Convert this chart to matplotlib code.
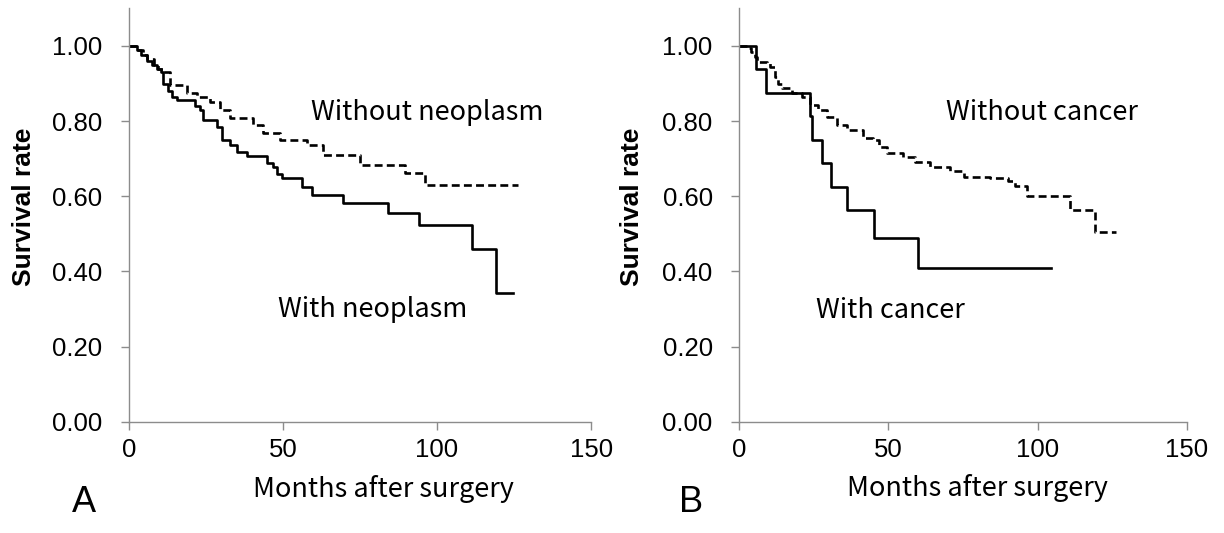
import numpy as np
import matplotlib
matplotlib.use("Agg")
import matplotlib.pyplot as plt

# Kaplan-Meier style step data (month at which the value starts, survival rate)
a_without_t = [0, 2.5, 4.5, 6, 8, 9.5, 11.1, 13.3, 18.7, 22, 26.3, 29.5, 32.8,
               40.4, 43.6, 49, 57.7, 63.1, 75, 89.6, 96.1, 126.3]
a_without_s = [1.0, 0.99, 0.975, 0.965, 0.95, 0.94, 0.932, 0.896, 0.874, 0.865,
               0.852, 0.83, 0.808, 0.79, 0.768, 0.75, 0.736, 0.71, 0.683, 0.661,
               0.63, 0.63]

a_with_t = [0, 2.5, 4, 6, 7.5, 9, 10.5, 11.1, 12.5, 14, 15.5, 21.4, 23, 24.1,
            28.5, 30.1, 32.8, 34.9, 38.2, 44.7, 46.9, 48, 49.6, 56.1, 59.3,
            69.6, 84.2, 94.3, 111.3, 119.1, 124.6]
a_with_s = [1.0, 0.99, 0.975, 0.96, 0.95, 0.94, 0.93, 0.90, 0.88, 0.865, 0.855,
            0.84, 0.829, 0.803, 0.785, 0.75, 0.736, 0.719, 0.707, 0.688, 0.679,
            0.66, 0.648, 0.626, 0.603, 0.581, 0.556, 0.524, 0.459, 0.342, 0.342]

b_without_t = [0, 2.6, 4, 5.4, 5.9, 9.3, 10.4, 12.1, 13.2, 14.3, 17.7, 21, 23.8,
               26.6, 29.4, 32.7, 36.1, 41.6, 45, 47, 49.5, 55, 59, 64, 70.7,
               75.2, 84.2, 90, 92.6, 96.4, 111, 119.4, 126.4]
b_without_s = [1.0, 0.994, 0.985, 0.972, 0.958, 0.954, 0.945, 0.918, 0.9, 0.887,
               0.874, 0.865, 0.843, 0.83, 0.812, 0.79, 0.777, 0.754, 0.75, 0.73,
               0.714, 0.705, 0.692, 0.679, 0.668, 0.652, 0.648, 0.64, 0.628,
               0.601, 0.564, 0.506, 0.506]

b_with_t = [0, 5.7, 8.9, 23.7, 24.4, 27.8, 30.9, 36, 45.3, 59.8, 104.4]
b_with_s = [1.0, 0.9375, 0.875, 0.8125, 0.75, 0.6875, 0.625, 0.5625, 0.49,
            0.408, 0.408]

x_ticks = [0, 50, 100, 150]
y_ticks = [0.0, 0.2, 0.4, 0.6, 0.8, 1.0]

panels = [
    dict(letter="A", without=(a_without_t, a_without_s), with_=(a_with_t, a_with_s),
         lab_without="Without neoplasm", lab_with="With neoplasm",
         pos_without=(96.9, 0.803), pos_with=(79.2, 0.279)),
    dict(letter="B", without=(b_without_t, b_without_s), with_=(b_with_t, b_with_s),
         lab_without="Without cancer", lab_with="With cancer",
         pos_without=(101.4, 0.803), pos_with=(50.6, 0.275)),
]

plt.rcParams['font.family'] = ['Liberation Sans', 'DejaVu Sans']
cjk = ['Noto Sans CJK JP', 'DejaVu Sans']
axis_grey = '#8c8c8c'

fig = plt.figure(figsize=(12.24, 5.33), dpi=100)
rects = [[0.1054, 0.2088, 0.3775, 0.7754], [0.6038, 0.2088, 0.3658, 0.7754]]
xlab_pos = [(0.55, -0.163), (0.533, -0.160)]
ylab_x = [-0.227, -0.240]
letter_pos = [(0.0686, 0.058), (0.565, 0.058)]

for p, r, xl, yx, lp in zip(panels, rects, xlab_pos, ylab_x, letter_pos):
    ax = fig.add_axes(r)
    ax.step(*p['without'], where='post', color='black', lw=1.9,
            linestyle=(0, (3, 1.6)))
    ax.step(*p['with_'], where='post', color='black', lw=1.9)

    ax.set_xlim(0, 150)
    ax.set_ylim(0, 1.1)
    ax.set_xticks(x_ticks)
    ax.set_yticks(y_ticks)
    ax.set_yticklabels([f"{v:.2f}" for v in y_ticks])
    for s in ['top', 'right']:
        ax.spines[s].set_visible(False)
    for s in ['left', 'bottom']:
        ax.spines[s].set_color(axis_grey)
        ax.spines[s].set_linewidth(1.0)
    ax.tick_params(axis='both', colors=axis_grey, labelcolor='black',
                   length=6, width=1.0, labelsize=18.5)
    ax.tick_params(axis='y', pad=13)
    ax.tick_params(axis='x', pad=6)

    ax.set_xlabel("Months after surgery", fontfamily=cjk, fontsize=19.5)
    ax.xaxis.set_label_coords(*xl)
    ax.xaxis.label.set_va('center')
    ax.set_ylabel("Survival rate", fontweight='bold', fontsize=19)
    ax.yaxis.set_label_coords(yx, 0.52)
    ax.yaxis.label.set_va('center')

    ax.text(*p['pos_without'], p['lab_without'], fontfamily=cjk, fontsize=19.5,
            ha='center', va='baseline')
    ax.text(*p['pos_with'], p['lab_with'], fontfamily=cjk, fontsize=19.5,
            ha='center', va='baseline')

    fig.text(*lp, p['letter'], fontsize=26, ha='center', va='center')

fig.savefig("out.png", dpi=100)
